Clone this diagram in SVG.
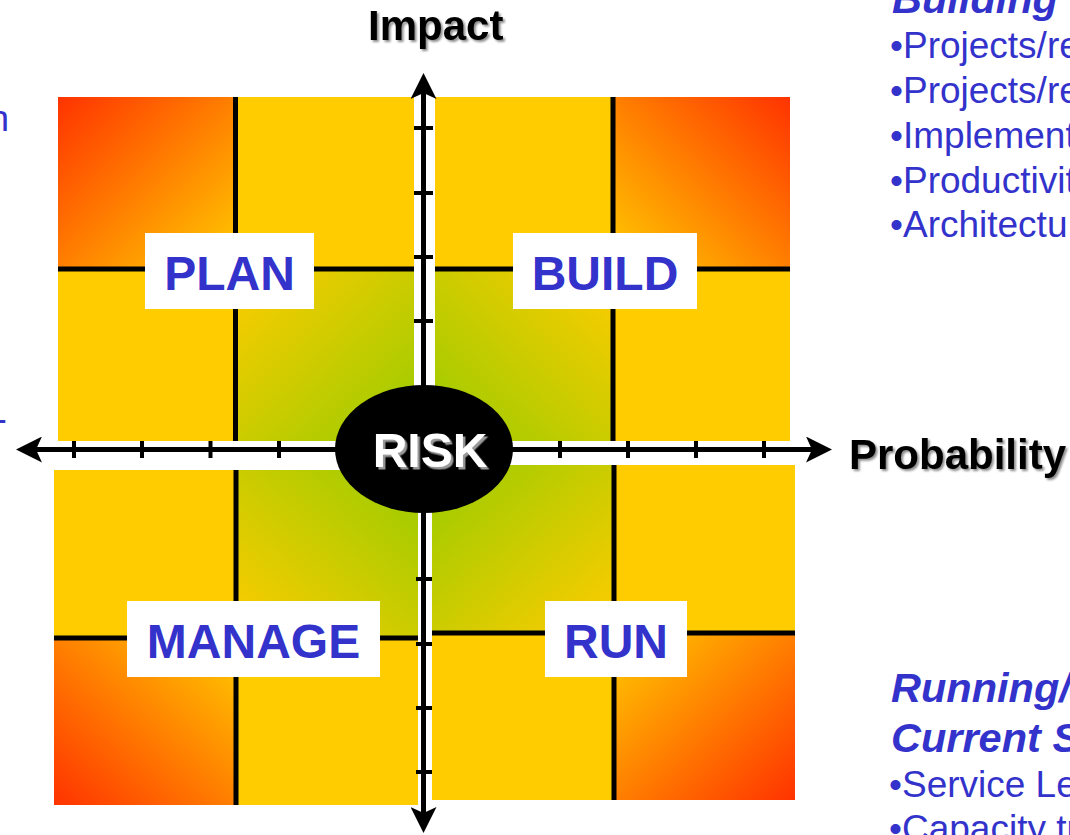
<svg xmlns="http://www.w3.org/2000/svg" width="1070" height="835" viewBox="0 0 1070 835">
  <defs>
    <style>
      .yellow { fill: #FFCC00; }
      .grid { stroke: #000; stroke-width: 5; fill: none; }
      .box { fill: #FFFFFF; }
      .label { font-family: "Liberation Sans", Arial, sans-serif; font-weight: bold; font-size: 48px; fill: #3333CC; text-anchor: middle; }
      .axis { stroke: #000; stroke-width: 5; fill: none; marker-end: url(#arrow); }
      .tick { stroke: #000; stroke-width: 4; fill: none; }
      .axis-title { font-family: "Liberation Sans", Arial, sans-serif; font-weight: bold; font-size: 42px; fill: #000; filter: url(#softShadow); }
      .side { font-family: "Liberation Sans", Arial, sans-serif; font-size: 37px; fill: #3333CC; }
      .side-title { font-weight: bold; font-style: italic; font-size: 41.5px; }
    </style>
    <!-- corner shading: red at the outer corner, green towards the centre -->
    <linearGradient id="redTL" x1="0" y1="0" x2="1" y2="1">
      <stop offset="0" stop-color="#FF3300"/><stop offset="1" stop-color="#FFCC00"/>
    </linearGradient>
    <linearGradient id="redTR" x1="1" y1="0" x2="0" y2="1">
      <stop offset="0" stop-color="#FF3300"/><stop offset="1" stop-color="#FFCC00"/>
    </linearGradient>
    <linearGradient id="redBL" x1="0" y1="1" x2="1" y2="0">
      <stop offset="0" stop-color="#FF3300"/><stop offset="1" stop-color="#FFCC00"/>
    </linearGradient>
    <linearGradient id="redBR" x1="1" y1="1" x2="0" y2="0">
      <stop offset="0" stop-color="#FF3300"/><stop offset="1" stop-color="#FFCC00"/>
    </linearGradient>
    <linearGradient id="greenTL" x1="1" y1="1" x2="0" y2="0">
      <stop offset="0" stop-color="#99CC00"/><stop offset="1" stop-color="#FFCC00"/>
    </linearGradient>
    <linearGradient id="greenTR" x1="0" y1="1" x2="1" y2="0">
      <stop offset="0" stop-color="#99CC00"/><stop offset="1" stop-color="#FFCC00"/>
    </linearGradient>
    <linearGradient id="greenBL" x1="1" y1="0" x2="0" y2="1">
      <stop offset="0" stop-color="#99CC00"/><stop offset="1" stop-color="#FFCC00"/>
    </linearGradient>
    <linearGradient id="greenBR" x1="0" y1="0" x2="1" y2="1">
      <stop offset="0" stop-color="#99CC00"/><stop offset="1" stop-color="#FFCC00"/>
    </linearGradient>
    <filter id="softShadow" x="-10%" y="-20%" width="130%" height="150%">
      <feDropShadow dx="2" dy="2" stdDeviation="1.2" flood-color="#000" flood-opacity="0.45"/>
    </filter>
    <filter id="riskShadow" x="-10%" y="-20%" width="130%" height="150%">
      <feDropShadow dx="2.5" dy="2.5" stdDeviation="0.7" flood-color="#9A9A9A" flood-opacity="1"/>
    </filter>
    <marker id="arrow" markerUnits="userSpaceOnUse" viewBox="0 0 26 26" markerWidth="26" markerHeight="26" refX="14" refY="13" orient="auto">
      <path d="M0,0 L26,13 L0,26 L6,13 Z" fill="#000"/>
    </marker>
  </defs>

  <rect width="1070" height="835" fill="#FFFFFF"/>

  <!-- PLAN quadrant -->
  <g id="plan">
    <rect class="yellow" x="58" y="97" width="356" height="344"/>
    <rect x="58" y="97" width="177.5" height="172" fill="url(#redTL)"/>
    <rect x="235.5" y="269" width="178.5" height="172" fill="url(#greenTL)"/>
    <line class="grid" x1="235.5" y1="97" x2="235.5" y2="441"/>
    <line class="grid" x1="58" y1="269" x2="414" y2="269"/>
    <rect class="box" x="145" y="233" width="169" height="76"/>
    <text class="label" x="229.5" y="290">PLAN</text>
  </g>

  <!-- BUILD quadrant -->
  <g id="build">
    <rect class="yellow" x="435" y="97" width="355" height="344"/>
    <rect x="613" y="97" width="177" height="172" fill="url(#redTR)"/>
    <rect x="435" y="269" width="178" height="172" fill="url(#greenTR)"/>
    <line class="grid" x1="613" y1="97" x2="613" y2="441"/>
    <line class="grid" x1="435" y1="269" x2="790" y2="269"/>
    <rect class="box" x="513" y="233" width="184" height="76"/>
    <text class="label" x="605" y="290">BUILD</text>
  </g>

  <!-- MANAGE quadrant -->
  <g id="manage">
    <rect class="yellow" x="54" y="470" width="364" height="335"/>
    <rect x="54" y="638" width="182" height="167" fill="url(#redBL)"/>
    <rect x="236" y="470" width="182" height="168" fill="url(#greenBL)"/>
    <line class="grid" x1="236" y1="470" x2="236" y2="805"/>
    <line class="grid" x1="54" y1="638" x2="418" y2="638"/>
    <rect class="box" x="127" y="601" width="253" height="76"/>
    <text class="label" x="253.5" y="658">MANAGE</text>
  </g>

  <!-- RUN quadrant -->
  <g id="run">
    <rect class="yellow" x="432" y="465" width="363" height="335"/>
    <rect x="614" y="633" width="181" height="167" fill="url(#redBR)"/>
    <rect x="432" y="465" width="182" height="168" fill="url(#greenBR)"/>
    <line class="grid" x1="614" y1="465" x2="614" y2="800"/>
    <line class="grid" x1="432" y1="633" x2="795" y2="633"/>
    <rect class="box" x="545" y="601" width="142" height="76"/>
    <text class="label" x="616" y="658">RUN</text>
  </g>

  <!-- axes with tick marks -->
  <g id="connectors">
    <line class="axis" x1="424" y1="449.5" x2="28" y2="449.5"/>
    <line class="axis" x1="424" y1="449.5" x2="820" y2="449.5"/>
    <line class="axis" x1="423.5" y1="449.5" x2="423.5" y2="85"/>
    <line class="axis" x1="423.5" y1="449.5" x2="423.5" y2="821"/>
    <g class="tick">
      <line x1="74" y1="441" x2="74" y2="458"/>
      <line x1="142" y1="441" x2="142" y2="458"/>
      <line x1="210.5" y1="441" x2="210.5" y2="458"/>
      <line x1="279" y1="441" x2="279" y2="458"/>
      <line x1="560" y1="441" x2="560" y2="458"/>
      <line x1="628" y1="441" x2="628" y2="458"/>
      <line x1="696" y1="441" x2="696" y2="458"/>
      <line x1="764" y1="441" x2="764" y2="458"/>
      <line x1="414" y1="128" x2="433" y2="128"/>
      <line x1="414" y1="193" x2="433" y2="193"/>
      <line x1="414" y1="257" x2="433" y2="257"/>
      <line x1="414" y1="321" x2="433" y2="321"/>
      <line x1="416" y1="579" x2="432" y2="579"/>
      <line x1="416" y1="644" x2="432" y2="644"/>
      <line x1="416" y1="708" x2="432" y2="708"/>
      <line x1="416" y1="772" x2="432" y2="772"/>
    </g>
  </g>

  <!-- centre node -->
  <g id="risk">
    <ellipse cx="424" cy="449" rx="89" ry="64" fill="#000"/>
    <text x="430" y="467" font-family="Liberation Sans, Arial, sans-serif" font-weight="bold" font-size="48" fill="#FFFFFF" text-anchor="middle" filter="url(#riskShadow)">RISK</text>
  </g>

  <!-- axis titles -->
  <g id="axis-titles">
    <text class="axis-title" x="368" y="40">Impact</text>
    <text class="axis-title" x="849" y="469">Probability</text>
  </g>

  <!-- side notes (running off the page edges) -->
  <g id="notes-left" class="side">
    <text x="-11.6" y="131">n</text>
    <text x="-5.5" y="431">-</text>
  </g>
  <g id="notes-build" class="side">
    <text class="side-title" x="892" y="13">Building</text>
    <text x="890" y="58">•Projects/re</text>
    <text x="890" y="103">•Projects/re</text>
    <text x="890" y="148">•Implement</text>
    <text x="890" y="193">•Productivit</text>
    <text x="890" y="237">•Architectu</text>
  </g>
  <g id="notes-run" class="side">
    <text class="side-title" x="891" y="702">Running/</text>
    <text class="side-title" x="891" y="752">Current S</text>
    <text x="889" y="797">•Service Le</text>
    <text x="889" y="841">•Capacity tr</text>
  </g>
</svg>
